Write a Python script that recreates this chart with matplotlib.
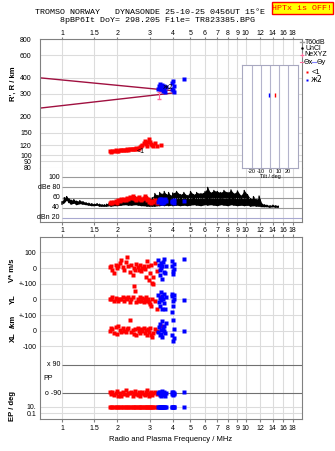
import numpy as np
import matplotlib
matplotlib.use("Agg")
import matplotlib.pyplot as plt
from matplotlib.ticker import NullLocator
from matplotlib.patches import Rectangle

W, H = 335, 451

#%% data
freq_ticks = [1, 1.5, 2, 3, 4, 5, 6, 7, 8, 9, 10, 12, 14, 16, 18]
freq_labels = ['1', '1.5', '2', '3', '4', '5', '6', '7', '8', '9', '10', '12', '14', '16', '18']
height_ticks = [80, 90, 100, 120, 150, 200, 300, 400, 600, 800]

# O mode (red) echoes: frequency, range, V*, YL, XL, PP, EP, amplitude
o_freq = [1.82, 1.85, 1.88, 1.92, 1.96, 2.00, 2.03, 2.06, 2.10, 2.14, 2.18, 2.22, 2.26,
          2.30, 2.34, 2.38, 2.42, 2.46, 2.50, 2.54, 2.58, 2.62, 2.66, 2.70, 2.74, 2.78,
          2.82, 2.86, 2.90, 2.94, 2.98, 3.02, 3.06, 3.10, 3.14, 3.20, 3.30, 3.45]
o_range = [108, 107, 109, 108, 110, 109, 108, 110, 110, 111, 110, 111, 112,
           111, 112, 112, 113, 112, 113, 114, 113, 114, 116, 118, 120, 126,
           130, 122, 119, 128, 134, 127, 123, 121, 118, 125, 119, 121]
o_vstar = [5, 13, -13, -32, 20, 0, 13, 35, 50, 6, -13, 39, 73,
           10, -26, 20, -45, 0, -10, 25, 5, -15, 20, -20, 0, 15,
           -5, -55, 47, 10, -75, -30, 20, -95, -60, 35, -20, 10]
o_yl = [5, 0, 12, -10, 8, 2, -13, 5, 0, 14, -12, 6, -1,
        13, -14, 0, 15, 86, 53, -16, 2, -10, 14, -12, 6, -15,
        0, 18, -13, 2, -15, -30, -45, 5, 100, -10, -60, 15]
o_xl = [-5, 20, 10, -15, 25, -20, 30, 5, -10, 15, 0, -8, 12,
        20, 66, -10, 5, -20, 8, -30, 15, 0, -15, 10, -5, 20,
        -12, 5, -25, 12, -8, 18, -30, -38, -15, 10, -5, 30]
o_pp = [-85, -95, -80, -100, -90, -75, -105, -90, -110, -85, -95, -70, -100,
        -88, -92, -80, -105, -90, -75, -95, -100, -85, -110, -90, -80, -95,
        -100, -85, -70, -95, -105, -90, -80, -100, -90, -85, -95, -90]
o_ep = [10, 9, 11, 10, 12, 9, 10, 11, 8, 10, 12, 9, 10,
        11, 10, 9, 12, 10, 8, 11, 10, 9, 12, 10, 11, 9,
        10, 12, 8, 10, 11, 9, 10, 12, 9, 10, 11, 10]
o_amp = [49, 51, 50, 52, 53, 50, 55, 54, 57, 55, 58, 56, 60,
         57, 61, 59, 63, 60, 58, 56, 60, 62, 58, 55, 57, 60,
         64, 59, 55, 57, 52, 54, 50, 53, 51, 55, 49, 52]

# X mode (blue) echoes
x_freq = [3.35, 3.38, 3.40, 3.42, 3.45, 3.47, 3.50, 3.52, 3.55, 3.58,
          3.60, 3.63, 3.66, 3.95, 3.98, 4.00, 4.02, 4.05, 4.08, 4.60]
x_range = [330, 345, 325, 360, 340, 320, 350, 335, 315, 345,
           330, 310, 340, 365, 330, 375, 320, 345, 310, 390]
x_vstar = [50, 20, -10, -45, 30, 0, -70, 10, 40, -25,
           55, -35, 15, 45, 10, -20, -40, 25, -5, 58]
x_yl = [30, -20, 10, -40, 50, -5, 20, -60, 0, -25,
        35, -64, 15, 32, 20, -10, -45, 5, 25, -6]
x_xl = [-10, 25, -30, 40, 5, -20, 60, -40, 15, -5,
        30, -15, 50, 120, -30, 70, -64, 10, -50, 0]
x_pp = [-90, -85, -100, -80, -95, -110, -90, -75, -100, -85,
        -95, -105, -90, -85, -95, -80, -100, -90, -95, -85]
x_ep = [10, 9, 11, 10, 12, 9, 10, 11, 8, 10,
        12, 9, 10, 11, 10, 9, 12, 10, 11, 10]
x_amp = [52, 56, 58, 54, 50, 57, 53, 55, 49, 56,
         52, 58, 54, 52, 54, 51, 53, 50, 55, 53]

# receiver amplitude trace (lower / upper envelope in dB)
amp_freq = [1.00, 1.03, 1.06, 1.09, 1.12, 1.16, 1.20, 1.25, 1.30, 1.35, 1.40, 1.45,
            1.50, 1.55, 1.60, 1.65, 1.70, 1.75, 1.80, 1.85, 1.90, 2.00, 2.10, 2.20,
            2.30, 2.40, 2.50, 2.60, 2.70, 2.80, 2.90, 3.00, 3.10, 3.20, 3.30, 3.40,
            3.50, 3.60, 3.70, 3.80, 3.90, 4.00, 4.20, 4.40, 4.60, 4.80, 5.00, 5.20,
            5.40, 5.70, 6.00, 6.20, 6.40, 6.70, 7.00, 7.30, 7.60, 8.00, 8.30, 8.60,
            9.00, 9.40, 9.80, 10.2, 10.6, 11.0, 11.4, 11.8, 12.2, 12.6, 13.0, 13.5,
            14.0, 14.5, 15.0]
amp_lo = [47, 50, 55, 50, 47, 49, 46, 48, 47, 46, 45, 44,
          44, 45, 43, 43, 43, 43, 44, 43, 44, 44, 45, 46,
          45, 45, 46, 45, 44, 44, 43, 43, 43, 43, 44, 44,
          45, 44, 45, 44, 45, 44, 45, 44, 45, 44, 45, 46,
          45, 44, 46, 45, 46, 45, 44, 46, 45, 44, 46, 45,
          44, 45, 44, 45, 43, 44, 43, 43, 42, 42, 42, 41,
          42, 41, 41]
amp_hi = [52, 60, 62, 58, 55, 56, 53, 54, 52, 50, 49, 48,
          47, 48, 47, 46, 46, 47, 48, 49, 50, 52, 55, 56,
          58, 60, 62, 60, 58, 60, 62, 58, 60, 68, 64, 70,
          67, 72, 66, 70, 64, 69, 72, 66, 70, 64, 72, 66,
          70, 68, 72, 80, 70, 74, 72, 70, 74, 70, 75, 68,
          73, 64, 74, 66, 58, 62, 56, 63, 48, 46, 45, 44,
          45, 44, 43]

# model curves and other markers in the height panel
model_freq = [0.76, 4.0]
model_upper = [400, 318]
model_lower = [233, 305]
nexyz_freq, nexyz_range, nexyz_err = 3.37, 292, [[17], [18]]
tilt_range = 295
tilt_o, tilt_x = 5.6, -1.1

RED, BLUE, GRAY, GRID = '#ff0000', '#0000ff', '#808080', '#dcdcdc'
MODEL, PINK = '#a01040', '#ff6f9f'
MS = 2.2

plt.rcParams['font.family'] = ['Liberation Sans', 'DejaVu Sans']
fig = plt.figure(figsize=(W / 100, H / 100), dpi=100)


def px_axes(x0, y0, x1, y1, **kw):
    return fig.add_axes([x0 / W, 1 - y1 / H, (x1 - x0) / W, (y1 - y0) / H], **kw)


def freq_axis(ax):
    ax.set_xscale('log')
    ax.set_xlim(0.76, 20.2)
    ax.set_xticks(freq_ticks)
    ax.set_xticklabels(freq_labels)
    ax.xaxis.set_minor_locator(NullLocator())
    ax.tick_params(axis='x', direction='out', length=2, color=GRAY, labelsize=5, pad=1.5)
    for s in ax.spines.values():
        s.set_color(GRAY)
        s.set_linewidth(0.8)
    ax.grid(True, axis='x', color=GRID, lw=0.8)
    ax.set_axisbelow(True)


#%% height panel
ax_h = px_axes(40, 39, 302, 168)
freq_axis(ax_h)
ax_h.tick_params(axis='x', top=True, bottom=False, labeltop=True, labelbottom=False,
                 length=1.5, pad=0)
ax_h.set_yscale('log')
ax_h.set_ylim(80, 800)
ax_h.set_yticks(height_ticks)
ax_h.set_yticklabels([str(h) for h in height_ticks])
ax_h.yaxis.set_minor_locator(NullLocator())
ax_h.tick_params(axis='y', length=0, labelsize=5, pad=6)
ax_h.grid(True, axis='y', color=GRID, lw=0.8)
ax_h.spines['bottom'].set_visible(False)

ax_h.plot(model_freq, model_upper, color=MODEL, lw=1)
ax_h.plot(model_freq, model_lower, color=MODEL, lw=1)
ax_h.plot(o_freq, o_range, 's', color=RED, ms=MS, mec='none')
ax_h.plot(x_freq, x_range, 's', color=BLUE, ms=MS, mec='none')
ax_h.errorbar([nexyz_freq], [nexyz_range], yerr=nexyz_err, color=PINK, lw=0.8, capsize=1.2)
ax_h.text(2.55, 107, '<1', fontsize=5, va='center', ha='left')
ax_h.text(3.54, 338, 'ж2', fontsize=5, va='center', ha='left', family='DejaVu Sans')

#%% amplitude panel
ax_a = px_axes(40, 168, 302, 222)
freq_axis(ax_a)
ax_a.set_ylim(12, 118)
ax_a.set_yticks([])
ax_a.spines['top'].set_visible(False)
ax_a.hlines([100, 80, 60, 40], 1, 20.2, color='#9a9a9a', lw=0.8)
ax_a.hlines([20], 1, 20.2, color='#a8a8d0', lw=0.8)
for val, lab in zip([100, 80, 60, 40, 20], ['100', 'dBe 80', '60', '40', 'dBn 20']):
    ax_a.text(0.975, val, lab, fontsize=5, ha='right', va='center')
ax_a.fill_between(amp_freq, amp_lo, amp_hi, color='black', lw=0)
zig_f = np.repeat(amp_freq, 2)
zig_db = np.ravel(np.column_stack([amp_lo, amp_hi]))
ax_a.plot(zig_f, zig_db, color='black', lw=0.9)
ax_a.plot(o_freq, o_amp, 's', color=RED, ms=2.5, mec='none')
ax_a.plot(x_freq, x_amp, 's', color=BLUE, ms=2.5, mec='none')

#%% tilt inset
ax_t = px_axes(242, 65, 298, 168, facecolor='white', zorder=5)
ax_t.set_xlim(-31, 31)
ax_t.set_yscale('log')
ax_t.set_ylim(80, 503)
ax_t.set_yticks([])
ax_t.yaxis.set_minor_locator(NullLocator())
ax_t.set_xticks([-20, -10, 0, 10, 20])
ax_t.set_xticklabels(['-20', '-10', '0', '10', '20'])
ax_t.tick_params(axis='x', length=0, labelsize=4, pad=1)
ax_t.set_xlabel('Tilt / deg', fontsize=4, labelpad=0)
for t in [-20, -10, 0, 10, 20]:
    ax_t.axvline(t, color='#b4b4cc', lw=0.8)
for s in ax_t.spines.values():
    s.set_color('#a8a8c0')
ax_t.plot([tilt_x], [tilt_range], '|', color=BLUE, ms=3, mew=1)
ax_t.plot([tilt_o], [tilt_range], '|', color=RED, ms=3, mew=1)

#%% velocity / polarisation panel (stacked sections on one axis)
V_OFF, YL_OFF, XL_OFF, PP_OFF = 0, -200, -400, -709


def ep_pos(ep):
    return -926 + 19.5 * (np.log10(ep) + 1)


ax_v = px_axes(40, 237, 302, 419)
freq_axis(ax_v)
ax_v.tick_params(axis='x', top=True, labeltop=False, pad=2.5)
ax_v.set_ylim(-964, 198)
vt = [100, 0, -100, -200, -300, -400, -500]
ax_v.set_yticks(vt + [ep_pos(10), ep_pos(0.1)])
ax_v.set_yticklabels(['100', '0', '+-100', '0', '+-100', '0', '-100', '10.', '0.1'])
ax_v.tick_params(axis='y', length=0, labelsize=5, pad=2.5)
ax_v.hlines(vt + [ep_pos(10), ep_pos(0.1)], 0.76, 20.2, color=GRID, lw=0.8)
ax_v.hlines([90 + PP_OFF, -90 + PP_OFF], 1, 20.2, color='#707070', lw=0.8)
ax_v.text(0.985, 90 + PP_OFF, 'x 90', fontsize=5, ha='right', va='center')
ax_v.text(0.985, -90 + PP_OFF, 'o -90', fontsize=5, ha='right', va='center')
ax_v.text(0.79, -708, 'PP', fontsize=5, ha='left', va='center')

for f, v, yl, xl, pp, ep, c in [(o_freq, o_vstar, o_yl, o_xl, o_pp, o_ep, RED),
                                (x_freq, x_vstar, x_yl, x_xl, x_pp, x_ep, BLUE)]:
    ax_v.plot(f, np.array(v) + V_OFF, 's', color=c, ms=MS, mec='none')
    ax_v.plot(f, np.array(yl) + YL_OFF, 's', color=c, ms=MS, mec='none')
    ax_v.plot(f, np.array(xl) + XL_OFF, 's', color=c, ms=MS, mec='none')
    ax_v.plot(f, np.array(pp) + PP_OFF, 's', color=c, ms=MS, mec='none')
    ax_v.plot(f, ep_pos(np.array(ep)), 's', color=c, ms=MS, mec='none')
ax_v.set_xlabel('Radio and Plasma Frequency / MHz', fontsize=5.5, labelpad=3)

#%% header, side labels and legend in pixel coordinates
ov = fig.add_axes([0, 0, 1, 1], zorder=10)
ov.set_xlim(0, W)
ov.set_ylim(H, 0)
ov.axis('off')
ov.text(35, 12.5, 'TROMSO NORWAY   DYNASONDE 25-10-25 0456UT 15°E', family='Liberation Mono',
        fontsize=6, va='center')
ov.text(60, 20, '8pBP6It DoY= 298.205 File= TR823385.BPG', family='Liberation Mono',
        fontsize=6, va='center')
ov.add_patch(Rectangle((272, 2), 61, 12, fc='#ffff00', ec=RED, lw=1))
ov.text(302.5, 8.5, 'HPTx is OFF!', family='Liberation Mono', fontsize=6, color=RED,
        ha='center', va='center')

side = [("R', R / km", 84), ('V* m/s', 270), ('YL', 299), ('/km', 321), ('XL', 337),
        ('EP / deg', 406)]
for lab, y in side:
    ov.text(13, y, lab, rotation=90, fontsize=5.5, fontweight='bold', ha='center', va='center')

ov.plot([300, 304], [42, 42], color='#a0a0a0', lw=1)
ov.text(305, 42, 'T60dB', fontsize=5, va='center')
ov.plot([302], [48], '.', color='black', ms=1.5)
ov.text(306, 48, 'UnCl', fontsize=5, va='center')
ov.plot([301.5], [55], '+', color=PINK, ms=3, mew=0.8)
ov.text(304, 55, 'NeXYZ', fontsize=5, va='center')
ov.plot([300, 303], [62, 62], color=PINK, lw=0.8)
ov.text(303.5, 62, 'Θx', fontsize=5, va='center', family='DejaVu Sans')
ov.plot([312, 316], [62, 62], color='#8080ff', lw=0.8)
ov.text(316.5, 62, 'Θy', fontsize=5, va='center', family='DejaVu Sans')
ov.plot([307], [72], 's', color=RED, ms=2, mec='none')
ov.text(312, 72, '<1', fontsize=5.5, va='center')
ov.plot([307], [80], 's', color=BLUE, ms=2, mec='none')
ov.text(311, 80, 'ж2', fontsize=5.5, va='center', family='DejaVu Sans')

fig.savefig('out.png', dpi=100)
